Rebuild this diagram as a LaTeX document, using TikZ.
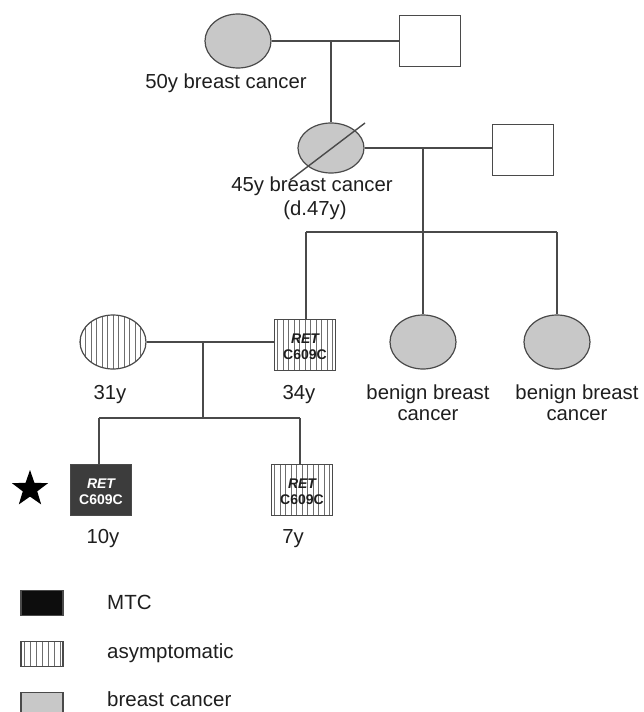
\documentclass[tikz,border=0pt]{standalone}
\usepackage{fontspec}
\setmainfont{Liberation Sans}
\usetikzlibrary{shapes.geometric}
\definecolor{bc}{HTML}{C8C8C8}
\definecolor{edgec}{HTML}{4A4A4A}
\definecolor{mtc}{HTML}{3C3C3C}
\definecolor{hatchc}{HTML}{6E6E6E}
\definecolor{txt}{HTML}{1E1E1E}
\tikzset{
 every node/.style={inner sep=0pt},
 lbl/.style={font=\fontsize{20.3}{21}\selectfont, text=txt, align=center},
 fem/.style={ellipse, draw=edgec, line width=1.2pt, minimum width=66pt, minimum height=54pt},
 mal/.style={rectangle, draw=edgec, line width=1.2pt, minimum width=61pt, minimum height=51pt},
 affected/.style={fill=bc},
 hatched/.style={fill=white, path picture={\foreach \i in {-33,-27.5,...,33}{\draw[hatchc,line width=0.6pt] ([xshift=\i pt]path picture bounding box.north) -- ([xshift=\i pt]path picture bounding box.south);}}},
 conn/.style={draw=edgec, line width=1.4pt},
 gene/.style={font=\fontsize{14}{16}\selectfont\bfseries, align=center},
 legbox/.style={rectangle, draw=edgec, line width=1.2pt, minimum width=42pt, minimum height=25pt},
 legtxt/.style={font=\fontsize{20.5}{21}\selectfont, text=txt, anchor=west},
}
\begin{document}
\begin{tikzpicture}[x=1pt,y=-1pt]
\useasboundingbox (0,0) rectangle (644,712);
\clip (0,0) rectangle (644,712);
% generation I
\node[fem,affected] (gm1) at (238,41) {};
\node[mal,fill=white] (gf1) at (430,41) {};
\coordinate (m1) at (331,41);
\draw[conn] (gm1.east) -- (gf1.west);
\node[lbl] (l50) at (226,83) {50y breast cancer};
% generation II
\node[fem,affected,minimum height=50pt] (gm2) at (331,148) {};
\node[mal,fill=white] (gf2) at (523,150) {};
\draw[conn] (m1) -- (gm2.north);
\draw[conn] (gm2.east) -- (gm2.east -| gf2.west);
\draw[conn] ([shift={(-41,32)}]gm2.center) -- ([shift={(34,-25)}]gm2.center);
\node[lbl] (l45) at (312,186) {45y breast cancer};
\node[lbl] (ld47) at (315,210) {(d.47y)};
\coordinate (m2) at (423,148);
\coordinate (s2) at (423,232);
\coordinate (s2l) at (306,232);
\coordinate (s2r) at (557,232);
\draw[conn] (m2) -- (s2);
\draw[conn] (s2l) -- (s2r);
% generation III
\node[mal,hatched] (f3) at (305,345) {};
\node[gene,text=txt] (f3t) at (305,347) {{\itshape RET}\\C609C};
\node[fem,hatched] (m3) at (113,342) {};
\node[fem,affected] (b1) at (423,342) {};
\node[fem,affected] (b2) at (557,342) {};
\draw[conn] (s2l) -- (s2l |- f3.north);
\draw[conn] (s2r) -- (b2.north);
\draw[conn] (s2) -- (b1.north);
\draw[conn] (m3.east) -- (m3.east -| f3.west);
\node[lbl] (l31) at (110,395) {31y};
\node[lbl] (l34) at (299,395) {34y};
\node[lbl] (lb1) at (428,403) {benign breast\\cancer};
\node[lbl] (lb2) at (577,403) {benign breast\\cancer};
\coordinate (m4) at (203,342);
\coordinate (s4) at (203,418);
\coordinate (s4l) at (99,418);
\coordinate (s4r) at (300,418);
\draw[conn] (m4) -- (s4);
\draw[conn] (s4l) -- (s4r);
% generation IV
\node[mal,fill=mtc] (c1) at (101,490) {};
\node[gene,text=white] (c1t) at (101,492) {{\itshape RET}\\C609C};
\node[mal,hatched] (c2) at (302,490) {};
\node[gene,text=txt] (c2t) at (302,492) {{\itshape RET}\\C609C};
\draw[conn] (s4l) -- (s4l |- c1.north);
\draw[conn] (s4r) -- (s4r |- c2.north);
\node[star,star points=5,star point ratio=2.5,fill=black,minimum size=38pt] (star) at (30,489) {};
\node[lbl] (l10) at (103,539) {10y};
\node[lbl] (l7) at (293,539) {7y};
% legend
\node[legbox,fill=black!95] (k1) at (42,603) {};
\node[legtxt] (k1t) at (107,602) {MTC};
\node[legbox,fill=white,path picture={\foreach \i in {-18,-12,...,18}{\draw[hatchc,line width=0.6pt] ([xshift=\i pt]path picture bounding box.north) -- ([xshift=\i pt]path picture bounding box.south);}}] (k2) at (42,654) {};
\node[legtxt] (k2t) at (107,653) {asymptomatic};
\node[legbox,fill=bc] (k3) at (42,705) {};
\node[legtxt] (k3t) at (107,699) {breast cancer};
\end{tikzpicture}
\end{document}
